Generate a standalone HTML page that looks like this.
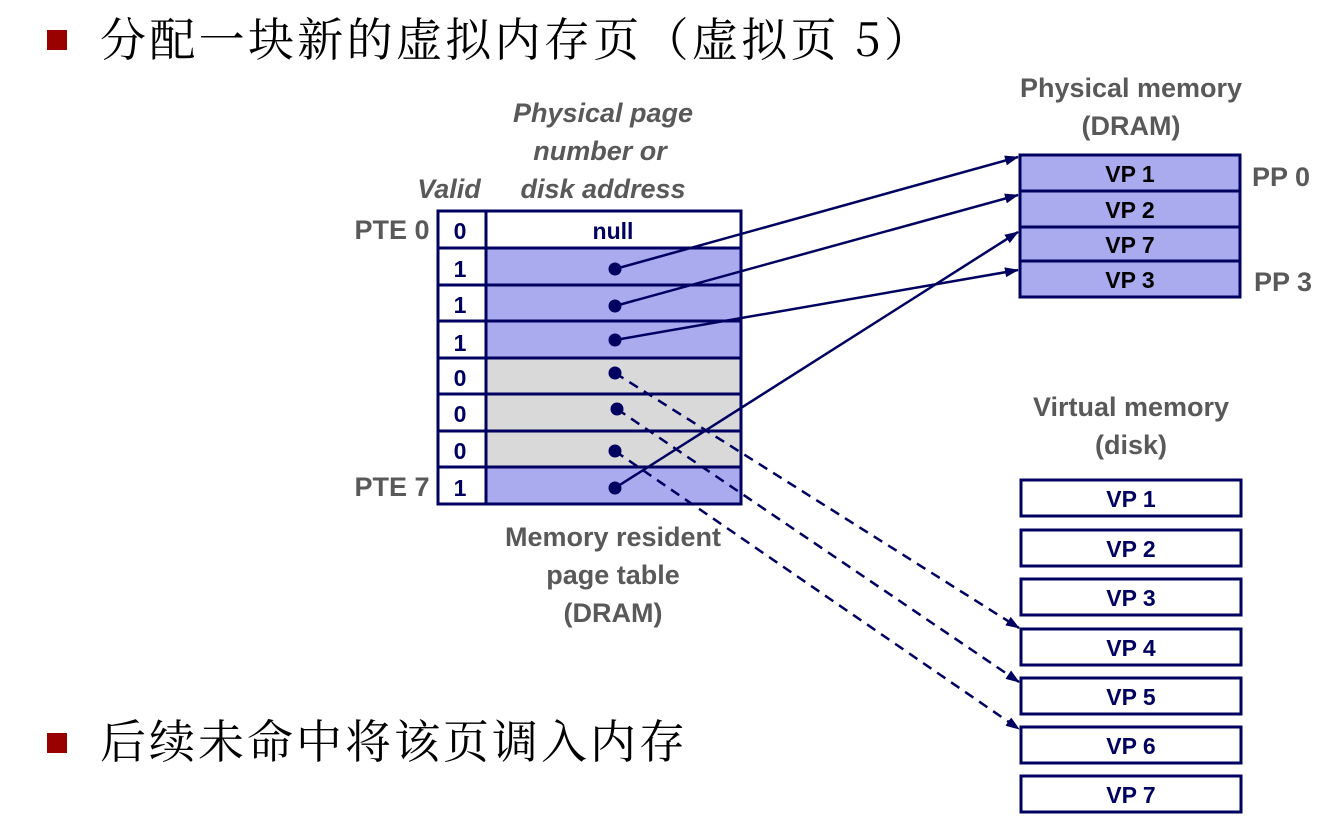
<!DOCTYPE html>
<html><head><meta charset="utf-8"><style>
html,body{margin:0;padding:0;background:#fff;}
svg{display:block;}
.lb{font-family:"Liberation Sans",sans-serif;font-weight:bold;fill:#595959;font-size:27px;}
.it{font-style:italic;}
.tn{font-family:"Liberation Sans",sans-serif;font-weight:bold;fill:#000060;font-size:23px;}
.tk{font-family:"Liberation Sans",sans-serif;font-weight:bold;fill:#000;font-size:23px;}
.cj{font-family:"Noto Serif CJK SC","WenQuanYi Zen Hei",serif;font-size:46px;fill:#000;}
</style></head><body>
<svg width="1331" height="833" viewBox="0 0 1331 833" xmlns="http://www.w3.org/2000/svg">
<defs>
<marker id="ar" markerWidth="14" markerHeight="10" refX="13" refY="5" orient="auto" markerUnits="userSpaceOnUse">
<path d="M0,0 L14,5 L0,10 z" fill="#000060"/></marker>
</defs>
<rect x="47" y="30" width="20" height="20" fill="#990000"/>
<text class="cj" x="100" y="56" textLength="830" lengthAdjust="spacing">分配一块新的虚拟内存页（虚拟页 5）</text>
<rect x="47" y="733" width="20" height="20" fill="#990000"/>
<text class="cj" x="100" y="758" textLength="585" lengthAdjust="spacing">后续未命中将该页调入内存</text>

<text class="lb it" x="603" y="122" text-anchor="middle">Physical page</text>
<text class="lb it" x="600" y="160" text-anchor="middle">number or</text>
<text class="lb it" x="603" y="198" text-anchor="middle">disk address</text>
<text class="lb it" x="449" y="198" text-anchor="middle">Valid</text>
<text class="lb" x="392" y="239" text-anchor="middle">PTE 0</text>
<text class="lb" x="392" y="496" text-anchor="middle">PTE 7</text>
<text class="lb" x="613" y="546" text-anchor="middle">Memory resident</text>
<text class="lb" x="613" y="584" text-anchor="middle">page table</text>
<text class="lb" x="613" y="622" text-anchor="middle">(DRAM)</text>

<g stroke="#000060" stroke-width="3">
<rect x="438" y="211" width="303" height="293" fill="#fff"/>
<rect x="486" y="248" width="255" height="110" fill="#aaaaee"/>
<rect x="486" y="358" width="255" height="109" fill="#d9d9d9"/>
<rect x="486" y="467" width="255" height="37" fill="#aaaaee"/>
<line x1="486" y1="211" x2="486" y2="504"/>
<line x1="438" y1="248" x2="741" y2="248"/>
<line x1="438" y1="285" x2="741" y2="285"/>
<line x1="438" y1="321" x2="741" y2="321"/>
<line x1="438" y1="358" x2="741" y2="358"/>
<line x1="438" y1="394" x2="741" y2="394"/>
<line x1="438" y1="431" x2="741" y2="431"/>
<line x1="438" y1="467" x2="741" y2="467"/>
</g>
<g class="tn" text-anchor="middle">
<text x="460" y="239">0</text><text x="460" y="277">1</text><text x="460" y="313">1</text>
<text x="460" y="351">1</text><text x="460" y="386">0</text><text x="460" y="422">0</text>
<text x="460" y="459">0</text><text x="460" y="496">1</text>
<text x="613" y="239">null</text>
</g>

<text class="lb" x="1131" y="97" text-anchor="middle">Physical memory</text>
<text class="lb" x="1131" y="135" text-anchor="middle">(DRAM)</text>
<g stroke="#000060" stroke-width="3" fill="#aaaaee">
<rect x="1020" y="155" width="220" height="142"/>
<line x1="1020" y1="191" x2="1240" y2="191"/>
<line x1="1020" y1="227" x2="1240" y2="227"/>
<line x1="1020" y1="261" x2="1240" y2="261"/>
</g>
<g class="tk" text-anchor="middle">
<text x="1130" y="182">VP 1</text><text x="1130" y="218">VP 2</text>
<text x="1130" y="253">VP 7</text><text x="1130" y="288">VP 3</text>
</g>
<text class="lb" x="1281" y="186" text-anchor="middle">PP 0</text>
<text class="lb" x="1283" y="291" text-anchor="middle">PP 3</text>

<text class="lb" x="1131" y="416" text-anchor="middle">Virtual memory</text>
<text class="lb" x="1131" y="454" text-anchor="middle">(disk)</text>
<g stroke="#000060" stroke-width="3" fill="#fff">
<rect x="1021" y="480" width="220" height="36"/><rect x="1021" y="530" width="220" height="36"/>
<rect x="1021" y="579" width="220" height="36"/><rect x="1021" y="629" width="220" height="36"/>
<rect x="1021" y="678" width="220" height="36"/><rect x="1021" y="727" width="220" height="36"/>
<rect x="1021" y="776" width="220" height="36"/>
</g>
<g class="tn" text-anchor="middle">
<text x="1131" y="507">VP 1</text><text x="1131" y="557">VP 2</text><text x="1131" y="606">VP 3</text>
<text x="1131" y="656">VP 4</text><text x="1131" y="705">VP 5</text><text x="1131" y="754">VP 6</text>
<text x="1131" y="803">VP 7</text>
</g>

<g stroke="#000060" stroke-width="2.5" fill="none">
<line x1="615" y1="269" x2="1018" y2="157" marker-end="url(#ar)"/>
<line x1="615" y1="306" x2="1018" y2="195" marker-end="url(#ar)"/>
<line x1="615" y1="340" x2="1018" y2="270" marker-end="url(#ar)"/>
<line x1="615" y1="488" x2="1018" y2="232" marker-end="url(#ar)"/>
<g stroke-dasharray="10,7">
<line x1="615" y1="373" x2="1019" y2="628" marker-end="url(#ar)"/>
<line x1="617" y1="409" x2="1019" y2="682" marker-end="url(#ar)"/>
<line x1="615" y1="451" x2="1019" y2="729" marker-end="url(#ar)"/>
</g>
</g>
<g fill="#000060">
<circle cx="615" cy="269" r="6.5"/><circle cx="615" cy="306" r="6.5"/><circle cx="615" cy="340" r="6.5"/>
<circle cx="615" cy="373" r="6.5"/><circle cx="617" cy="409" r="6.5"/><circle cx="615" cy="451" r="6.5"/>
<circle cx="615" cy="488" r="6.5"/>
</g>
</svg>
</body></html>
